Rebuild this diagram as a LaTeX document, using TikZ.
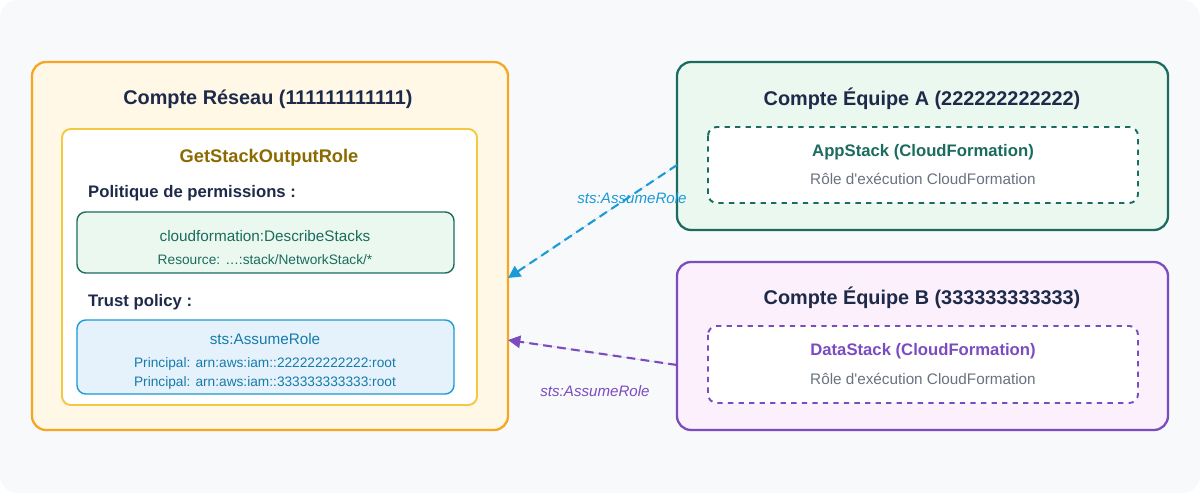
\documentclass[tikz,border=0pt]{standalone}
\usepackage{fontspec}
\setmainfont{Liberation Sans}
\usetikzlibrary{arrows.meta}
\definecolor{navy}{HTML}{1E2A4A}
\definecolor{orangeB}{HTML}{F5A623}
\definecolor{orangeF}{HTML}{FFF8E6}
\definecolor{yellowB}{HTML}{F5C842}
\definecolor{brownT}{HTML}{8B6B00}
\definecolor{tealB}{HTML}{1B6B5F}
\definecolor{greenF}{HTML}{EAF8EF}
\definecolor{blueB}{HTML}{1A9AD6}
\definecolor{blueF}{HTML}{E6F2FB}
\definecolor{purpleB}{HTML}{7B4BC0}
\definecolor{purpleF}{HTML}{FBF0FB}
\definecolor{greyT}{HTML}{6B7280}
\definecolor{bgc}{HTML}{F8F9FB}
\begin{document}
\begin{tikzpicture}[x=0.02cm,y=-0.02cm]
\tikzstyle{box}=[rounded corners=8pt, line width=1.3pt]
\tikzstyle{inbox}=[rounded corners=5pt, line width=0.8pt]
\tikzstyle{title}=[font=\fontsize{11.3}{13}\selectfont\bfseries, text=navy]
\tikzstyle{txt}=[font=\fontsize{8.7}{10}\selectfont]
\tikzstyle{head}=[font=\fontsize{9.5}{11}\selectfont\bfseries]
\tikzstyle{small}=[font=\fontsize{7.8}{9}\selectfont]
\tikzstyle{lbl}=[font=\fontsize{8.6}{10}\selectfont\itshape]
\tikzstyle{call}=[line width=1.2pt, dash pattern=on 5pt off 3pt, -{Triangle[length=7pt,width=7pt]}]
\fill[bgc, rounded corners=10pt] (0,0) rectangle (1200,493);
\useasboundingbox (0,0) rectangle (1200,493);

% compte reseau
\draw[box, draw=orangeB, fill=orangeF] (32,62) rectangle (508,430);
\node[title] (reseau) at (268,99) {Compte Réseau (111111111111)};
\draw[inbox, draw=yellowB, fill=white, line width=1.1pt] (62,129) rectangle (477,405);
\node[title, font=\fontsize{10.4}{12}\selectfont\bfseries, text=brownT] (role) at (269,158) {GetStackOutputRole};
\node[head, text=navy, anchor=west] (perm) at (82,193) {Politique de permissions :};
\draw[inbox, draw=tealB, fill=greenF] (77,212) rectangle (454,273);
\node[txt, text=tealB] (desc) at (265,236) {cloudformation:DescribeStacks};
\node[small, text=tealB] (res) at (265,260) {Resource: …:stack/NetworkStack/*};
\node[head, text=navy, anchor=west] (trust) at (82,302) {Trust policy :};
\draw[inbox, draw=blueB, fill=blueF] (77,320) rectangle (454,394);
\node[txt, text=blueB!80!black] (assume) at (265,339) {sts:AssumeRole};
\node[small, text=blueB!80!black] (pa) at (265,364) {Principal: arn:aws:iam::222222222222:root};
\node[small, text=blueB!80!black] (pb) at (265,383) {Principal: arn:aws:iam::333333333333:root};

% equipe A
\draw[box, draw=tealB, fill=greenF] (677,62) rectangle (1168,230);
\node[title] (teamA) at (922,99) {Compte Équipe A (222222222222)};
\draw[inbox, draw=tealB, fill=white, dashed, line width=1.1pt] (708,127) rectangle (1138,203);
\node[head, text=tealB] (app) at (923,152) {AppStack (CloudFormation)};
\node[txt, text=greyT] (appr) at (923,179) {Rôle d\textquotesingle exécution CloudFormation};

% equipe B
\draw[box, draw=purpleB, fill=purpleF] (677,262) rectangle (1168,430);
\node[title] (teamB) at (922,298) {Compte Équipe B (333333333333)};
\draw[inbox, draw=purpleB, fill=white, dashed, line width=1.1pt] (708,326) rectangle (1138,403);
\node[head, text=purpleB] (data) at (923,351) {DataStack (CloudFormation)};
\node[txt, text=greyT] (datar) at (923,379) {Rôle d\textquotesingle exécution CloudFormation};

% appels
\coordinate (fromA) at (677,165);
\coordinate (toA) at (508,278);
\coordinate (fromB) at (677,365);
\coordinate (toB) at (508,340);
\draw[call, draw=blueB, fill=blueB] (fromA) -- (toA);
\draw[call, draw=purpleB, fill=purpleB] (fromB) -- (toB);
\node[lbl, text=blueB] (lblA) at (632,198) {sts:AssumeRole};
\node[lbl, text=purpleB] (lblB) at (595,391) {sts:AssumeRole};
\end{tikzpicture}
\end{document}
